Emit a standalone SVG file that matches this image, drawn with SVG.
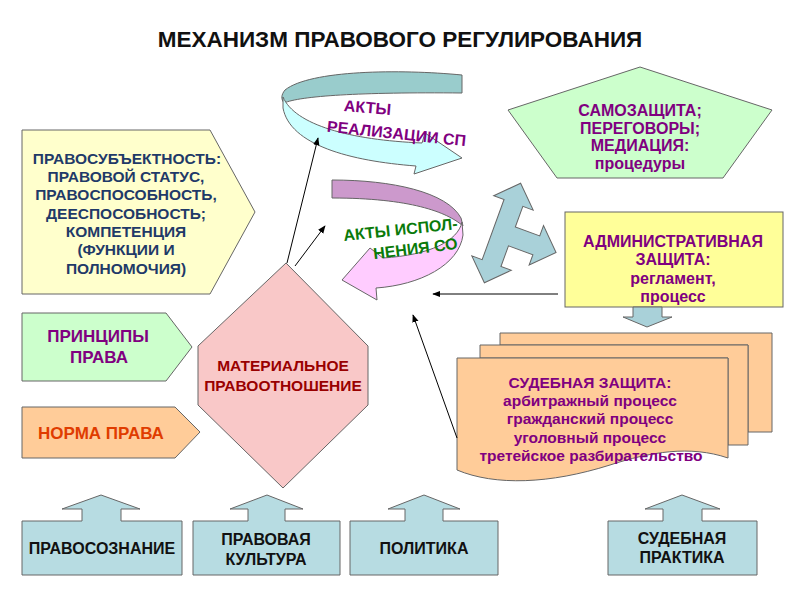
<svg xmlns="http://www.w3.org/2000/svg" width="800" height="600" viewBox="0 0 800 600">
<style>
  text { font-family: "Liberation Sans", Arial, sans-serif; font-weight: bold; text-anchor: middle; }
  .shp { stroke: #666; stroke-width: 1; }
  .t16 { font-size: 16px; }
  .t155 { font-size: 15.5px; }
  .t17 { font-size: 17px; }
  .navy { fill: #1F3A68; }
  .purple { fill: #800080; }
  .green { fill: #0A7A0A; }
  .blk { fill: #111; }
  .conn { stroke: #000; stroke-width: 1; fill: none; marker-end: url(#ah); }
  .blue { fill: #B7DCE2; }
</style>
<defs>
  <marker id="ah" viewBox="0 0 10 10" refX="9" refY="5" markerWidth="8" markerHeight="8" markerUnits="userSpaceOnUse" orient="auto">
    <path d="M0,1 L10,5 L0,9 Z" fill="#000"/>
  </marker>
</defs>
<rect width="800" height="600" fill="#fff"/>

<text x="400" y="47" style="font-size:22.5px" class="blk">МЕХАНИЗМ ПРАВОВОГО РЕГУЛИРОВАНИЯ</text>

<g id="pravosubektnost">
  <polygon class="shp" fill="#FFFFCC" points="22,130 210,130 255,212 210,294 22,294"/>
  <text class="t155 navy" x="127" y="164">ПРАВОСУБЪЕКТНОСТЬ:</text>
  <text class="t155 navy" x="126" y="182">ПРАВОВОЙ СТАТУС,</text>
  <text class="t155 navy" x="126" y="200">ПРАВОСПОСОБНОСТЬ,</text>
  <text class="t155 navy" x="126" y="219">ДЕЕСПОСОБНОСТЬ;</text>
  <text class="t155 navy" x="126" y="237">КОМПЕТЕНЦИЯ</text>
  <text class="t155 navy" x="126" y="255">(ФУНКЦИИ И</text>
  <text class="t155 navy" x="126" y="274">ПОЛНОМОЧИЯ)</text>
</g>

<g id="principy">
  <polygon class="shp" fill="#CCFFCC" points="22,313 166,313 192,347 166,381 22,381"/>
  <text class="t17 purple" x="98" y="342">ПРИНЦИПЫ</text>
  <text class="t17 purple" x="99" y="363">ПРАВА</text>
</g>

<g id="norma">
  <polygon class="shp" fill="#FFCC99" points="22,407 175,407 200,432 175,458 22,458"/>
  <text class="t17" fill="#E03C00" x="101" y="439">НОРМА ПРАВА</text>
</g>

<g id="pravootnoshenie">
  <polygon class="shp" fill="#F9C8C8" points="286,263 368,346 368,405 283,488 198,405 198,346"/>
  <text class="t155" fill="#990000" x="283" y="371">МАТЕРИАЛЬНОЕ</text>
  <text class="t155" fill="#990000" x="283" y="391">ПРАВООТНОШЕНИЕ</text>
</g>

<g id="akty-realizacii">
  <path class="shp" fill="#99CCCC" d="M462,75 C400,69 310,70 285,90 C281,95 281,99 284,103 C300,96 360,92 462,93 Z"/>
  <path class="shp" fill="#CCFFFF" d="M283,97 C295,125 350,140 422,143 L425,133 L462,158 L414,174 L416,166 C350,161 290,145 283,108 Z"/>
  <text class="t16 purple" transform="translate(367,113) rotate(5)" x="0" y="0">АКТЫ</text>
  <text class="t16 purple" transform="translate(396,139) rotate(6)" x="0" y="0">РЕАЛИЗАЦИИ СП</text>
</g>

<g id="akty-ispolneniya">
  <path class="shp" fill="#CC99CC" d="M332,180 C392,180 447,192 461,218 L463,226 C447,212 410,198 332,198 Z"/>
  <path class="shp" fill="#FFCCFF" d="M462,222 C458,241 430,255 383,258 L370,248 L342,280 L377,300 L376,288 C420,285 459,265 463,235 Z"/>
  <text class="t16 green" transform="translate(401,235) rotate(-6)" x="0" y="0">АКТЫ ИСПОЛ-</text>
  <text class="t16 green" transform="translate(416,254) rotate(-7)" x="0" y="0">НЕНИЯ СО</text>
</g>

<g id="samozashchita">
  <polygon class="shp" fill="#CCFFCC" points="640,67 772,110 723,178 557,178 508,110"/>
  <text class="t16 purple" x="640" y="116">САМОЗАЩИТА;</text>
  <text class="t16 purple" x="640" y="134">ПЕРЕГОВОРЫ;</text>
  <text class="t16 purple" x="640" y="151">МЕДИАЦИЯ:</text>
  <text class="t16 purple" x="640" y="169">процедуры</text>
</g>

<g id="cross-arrow">
  <path class="shp" fill="#A9D1D9" transform="translate(502.5,233) rotate(20)" d="M0,-53 L21,-32 L10,-32 L10,-10 L36,-10 L36,-21 L57,0 L36,21 L36,10 L10,10 L10,32 L21,32 L0,53 L-21,32 L-10,32 L-10,-32 L-21,-32 Z"/>
</g>

<g id="admin">
  <rect class="shp" fill="#FFFF99" x="565" y="212" width="218" height="95"/>
  <text class="t16 purple" x="673" y="247">АДМИНИСТРАТИВНАЯ</text>
  <text class="t16 purple" x="673" y="265">ЗАЩИТА:</text>
  <text class="t16 purple" x="673" y="284">регламент,</text>
  <text class="t16 purple" x="673" y="302">процесс</text>
</g>

<g id="admin-down-arrow">
  <polygon class="shp" fill="#A9D1D9" points="633,307 662,307 662,317 672,317 647,327 623,317 633,317"/>
</g>

<g id="sudebnaya-zashchita">
  <path class="shp" fill="#FFCC99" d="M500,333 L772,333 L772,432 L748,432 L748,345 L500,345 Z"/>
  <path class="shp" fill="#FFCC99" d="M480,345 L748,345 L748,445 L728,445 L728,358 L480,358 Z"/>
  <path class="shp" fill="#FFCC99" d="M457,358 L728,358 L728,458 C690,445 650,452 610,465 C550,484 495,486 457,470 Z"/>
  <text class="t155 purple" x="590" y="388">СУДЕБНАЯ ЗАЩИТА:</text>
  <text class="t155 purple" x="590" y="406">арбитражный процесс</text>
  <text class="t155 purple" x="590" y="424">гражданский процесс</text>
  <text class="t155 purple" x="590" y="443">уголовный процесс</text>
  <text class="t155 purple" x="591" y="461">третейское разбирательство</text>
</g>

<g id="pravosoznanie">
  <path class="shp blue" d="M22,521 L82,521 L82,509 L62,509 L101,495 L140,509 L121,509 L121,521 L182,521 L182,575 L22,575 Z"/>
  <text class="t16 blk" x="102" y="554">ПРАВОСОЗНАНИЕ</text>
</g>
<g id="pravovaya-kultura">
  <path class="shp blue" d="M193,521 L248,521 L248,509 L230,509 L267,495 L303,509 L285,509 L285,521 L340,521 L340,575 L193,575 Z"/>
  <text class="t16 blk" x="266" y="545">ПРАВОВАЯ</text>
  <text class="t16 blk" x="266" y="565">КУЛЬТУРА</text>
</g>
<g id="politika">
  <path class="shp blue" d="M350,521 L405,521 L405,509 L388,509 L424,495 L460,509 L443,509 L443,521 L498,521 L498,575 L350,575 Z"/>
  <text class="t16 blk" x="424" y="554">ПОЛИТИКА</text>
</g>
<g id="sudebnaya-praktika">
  <path class="shp blue" d="M608,521 L663,521 L663,509 L645,509 L682,495 L720,509 L702,509 L702,521 L757,521 L757,575 L608,575 Z"/>
  <text class="t16 blk" x="682" y="544">СУДЕБНАЯ</text>
  <text class="t16 blk" x="682" y="563">ПРАКТИКА</text>
</g>

<g id="connectors">
  <line class="conn" x1="287" y1="263" x2="318" y2="138"/>
  <line class="conn" x1="295" y1="266" x2="325" y2="226"/>
  <line class="conn" x1="558" y1="294" x2="433" y2="294"/>
  <line class="conn" x1="457" y1="438" x2="413" y2="315"/>
</g>
</svg>
